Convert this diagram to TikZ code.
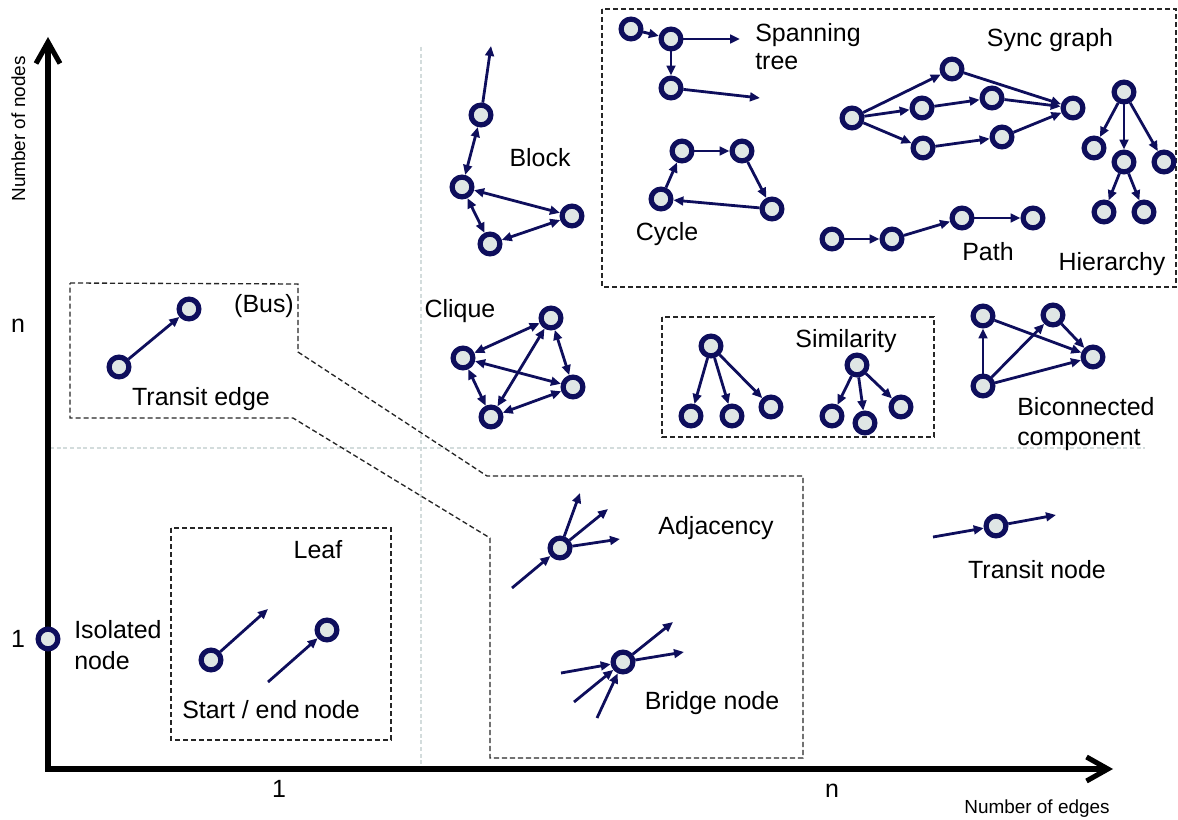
\documentclass[tikz,border=0pt]{standalone}
\usepackage{fontspec}
\setmainfont{Liberation Sans}
\usetikzlibrary{arrows.meta}
\definecolor{navy}{HTML}{0E0E5C}
\definecolor{ringfill}{HTML}{DFE6E5}
\definecolor{gridgrey}{HTML}{D3DCDC}
\begin{document}
\begin{tikzpicture}[x=0.75pt,y=-0.75pt,
  vx/.style={circle,draw=navy,fill=ringfill,line width=3.9pt,minimum size=14.8pt,inner sep=0pt,outer sep=1.95pt},
  link/.style={navy,line width=2.1pt,-{Triangle[length=7.5pt,width=6.5pt]}},
  dlink/.style={navy,line width=2.1pt,{Triangle[length=7.5pt,width=6.5pt]}-{Triangle[length=7.5pt,width=6.5pt]}},
  grpbox/.style={line width=1pt,dash pattern=on 3.8pt off 2.2pt,black!85},
  guide/.style={gridgrey,line width=0.8pt,dash pattern=on 3pt off 2pt},
  lbl/.style={font=\fontsize{18.7}{22.5}\selectfont,anchor=base,inner sep=0pt},
  lbll/.style={lbl,anchor=base west},
  axlbl/.style={font=\fontsize{14.2}{17}\selectfont,anchor=base,inner sep=0pt},
  axisline/.style={line width=3.8pt,{Straight Barb[length=16pt,width=18pt]}-{Straight Barb[length=16pt,width=18pt]}}
]
\useasboundingbox (0,0) rectangle (1178,820);

% guide lines splitting the plane at one edge / one node
\draw[guide] (421,47) -- (421,768);
\draw[guide] (50,448) -- (1145,448);

% axes
\coordinate (ytop) at (48,37);
\coordinate (origin) at (48,769);
\coordinate (xend) at (1113,769);
\draw[axisline] (ytop) -- (origin) -- (xend);
\node[axlbl,rotate=90] (ylab) at (25,129) {Number of nodes};
\node[axlbl] (xlab) at (1037,813) {Number of edges};
\node[lbl] (yn) at (18,332) {n};
\node[lbl] (y1) at (18,647) {1};
\node[lbl] (x1) at (279,797) {1};
\node[lbl] (xn) at (832,797) {n};

% dashed group outlines
\draw[grpbox] (70,283) -- (298,284) -- (298,352) -- (487,476) -- (803,476)
  -- (803,758) -- (490,758) -- (490,538) -- (293,418) -- (70,418) -- cycle;
\draw[grpbox] (171,528) rectangle (391,740);
\draw[grpbox] (662,317) rectangle (934,437);
\draw[grpbox] (602,9) rectangle (1176,287);

% isolated node
\node[vx] (iso) at (48,639) {};
\node[lbll] (isoa) at (74,638) {Isolated};
\node[lbll] (isob) at (74,669) {node};

% leaf: start / end node
\node[vx] (l1) at (211,660) {};
\node[vx] (l2) at (327,630) {};
\coordinate (l1out) at (268,609);
\coordinate (l2in) at (268,682);
\draw[link] (l1) -- (l1out);
\draw[link] (l2in) -- (l2);
\node[lbl] (leaf) at (318,558) {Leaf};
\node[lbl] (startend) at (271,718) {Start / end node};

% transit edge (bus)
\node[vx] (e1) at (119,367) {};
\node[vx] (e2) at (189,309) {};
\draw[link] (e1) -- (e2);
\node[lbl] (bus) at (264,312) {(Bus)};
\node[lbl] (tedge) at (201,405) {Transit edge};

% block
\node[vx] (b1) at (481,115) {};
\node[vx] (b2) at (462,187) {};
\node[vx] (b3) at (572,216) {};
\node[vx] (b4) at (490,244) {};
\coordinate (b1out) at (491,46);
\draw[link] (b1) -- (b1out);
\draw[dlink] (b1) -- (b2);
\draw[dlink] (b2) -- (b3);
\draw[dlink] (b2) -- (b4);
\draw[dlink] (b4) -- (b3);
\node[lbl] (block) at (540,167) {Block};

% clique
\node[vx] (c1) at (551,318) {};
\node[vx] (c2) at (463,358) {};
\node[vx] (c3) at (573,387) {};
\node[vx] (c4) at (491,417) {};
\draw[dlink] (c1) -- (c2);
\draw[dlink] (c2) -- (c3);
\draw[dlink] (c1) -- (c4);
\draw[dlink] (c1) -- (c3);
\draw[dlink] (c2) -- (c4);
\draw[dlink] (c4) -- (c3);
\node[lbl] (clique) at (460,317) {Clique};

% spanning tree
\node[vx] (s1) at (631,29) {};
\node[vx] (s2) at (671,39) {};
\node[vx] (s3) at (671,88) {};
\coordinate (s2out) at (740,39);
\coordinate (s3out) at (760,98);
\draw[link] (s1) -- (s2);
\draw[link] (s2) -- (s2out);
\draw[link] (s2) -- (s3);
\draw[link] (s3) -- (s3out);
\node[lbll] (spana) at (755,42) {Spanning};
\node[lbll] (spanb) at (755,70) {tree};

% cycle
\node[vx] (y1) at (682,151) {};
\node[vx] (y2) at (742,151) {};
\node[vx] (y3) at (772,209) {};
\node[vx] (y4) at (661,199) {};
\draw[link] (y4) -- (y1);
\draw[link] (y1) -- (y2);
\draw[link] (y2) -- (y3);
\draw[link] (y3) -- (y4);
\node[lbl] (cyc) at (667,240) {Cycle};

% sync graph
\node[vx] (g0) at (852,118) {};
\node[vx] (g1) at (952,69) {};
\node[vx] (g2) at (922,108) {};
\node[vx] (g3) at (992,98) {};
\node[vx] (g4) at (923,148) {};
\node[vx] (g5) at (1002,137) {};
\node[vx] (g6) at (1073,108) {};
\draw[link] (g0) -- (g1);
\draw[link] (g0) -- (g2);
\draw[link] (g0) -- (g4);
\draw[link] (g1) -- (g6);
\draw[link] (g2) -- (g3);
\draw[link] (g3) -- (g6);
\draw[link] (g4) -- (g5);
\draw[link] (g5) -- (g6);
\node[lbl] (sync) at (1050,47) {Sync graph};

% hierarchy
\node[vx] (h0) at (1124,92) {};
\node[vx] (h1) at (1094,148) {};
\node[vx] (h2) at (1124,162) {};
\node[vx] (h3) at (1164,162) {};
\node[vx] (h4) at (1104,212) {};
\node[vx] (h5) at (1144,212) {};
\draw[link] (h0) -- (h1);
\draw[link] (h0) -- (h2);
\draw[link] (h0) -- (h3);
\draw[link] (h2) -- (h4);
\draw[link] (h2) -- (h5);
\node[lbl] (hier) at (1112,270) {Hierarchy};

% path
\node[vx] (p1) at (832,239) {};
\node[vx] (p2) at (892,239) {};
\node[vx] (p3) at (962,218) {};
\node[vx] (p4) at (1033,218) {};
\draw[link] (p1) -- (p2);
\draw[link] (p2) -- (p3);
\draw[link] (p3) -- (p4);
\node[lbl] (path) at (988,260) {Path};

% similarity
\node[vx] (r1) at (711,346) {};
\node[vx] (r1a) at (691,416) {};
\node[vx] (r1b) at (732,416) {};
\node[vx] (r1c) at (771,407) {};
\node[vx] (r2) at (857,365) {};
\node[vx] (r2a) at (832,416) {};
\node[vx] (r2b) at (865,423) {};
\node[vx] (r2c) at (901,407) {};
\draw[link] (r1) -- (r1a);
\draw[link] (r1) -- (r1b);
\draw[link] (r1) -- (r1c);
\draw[link] (r2) -- (r2a);
\draw[link] (r2) -- (r2b);
\draw[link] (r2) -- (r2c);
\node[lbl] (simil) at (846,347) {Similarity};

% biconnected component
\node[vx] (k1) at (983,316) {};
\node[vx] (k2) at (1053,315) {};
\node[vx] (k3) at (1093,357) {};
\node[vx] (k4) at (983,386) {};
\draw[link] (k4) -- (k1);
\draw[link] (k4) -- (k2);
\draw[link] (k4) -- (k3);
\draw[link] (k1) -- (k3);
\draw[link] (k2) -- (k3);
\node[lbll] (bica) at (1017,415) {Biconnected};
\node[lbll] (bicb) at (1017,445) {component};

% adjacency
\node[vx] (a0) at (560,548) {};
\coordinate (a0in) at (512,588);
\coordinate (a0o1) at (580,493);
\coordinate (a0o2) at (608,509);
\coordinate (a0o3) at (620,539);
\draw[link] (a0in) -- (a0);
\draw[link] (a0) -- (a0o1);
\draw[link] (a0) -- (a0o2);
\draw[link] (a0) -- (a0o3);
\node[lbl] (adj) at (716,534) {Adjacency};

% bridge node
\node[vx] (n0) at (623,662) {};
\coordinate (n0i1) at (561,673);
\coordinate (n0i2) at (574,702);
\coordinate (n0i3) at (597,718);
\coordinate (n0o1) at (673,622);
\coordinate (n0o2) at (684,652);
\draw[link] (n0i1) -- (n0);
\draw[link] (n0i2) -- (n0);
\draw[link] (n0i3) -- (n0);
\draw[link] (n0) -- (n0o1);
\draw[link] (n0) -- (n0o2);
\node[lbl] (bridge) at (712,709) {Bridge node};

% transit node
\node[vx] (t0) at (996,526) {};
\coordinate (t0in) at (933,537);
\coordinate (t0out) at (1056,515);
\draw[link] (t0in) -- (t0);
\draw[link] (t0) -- (t0out);
\node[lbl] (tnode) at (1037,578) {Transit node};
\end{tikzpicture}
\end{document}
